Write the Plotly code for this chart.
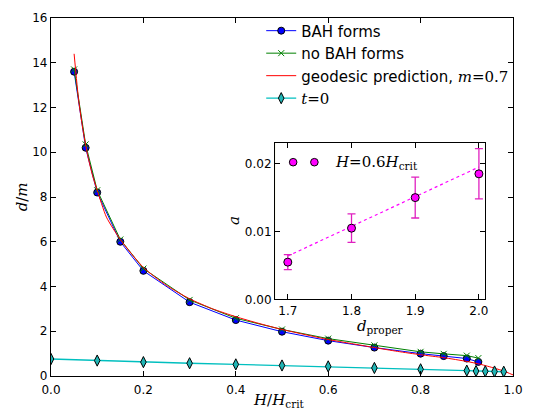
import plotly.graph_objects as go

# ---- data ----
bah_x = [0.05, 0.075, 0.1, 0.15, 0.2, 0.3, 0.4, 0.5, 0.6, 0.7, 0.8, 0.85, 0.9, 0.925]
bah_y = [13.6, 10.2, 8.2, 6.0, 4.7, 3.3, 2.5, 1.98, 1.58, 1.27, 1.0, 0.89, 0.78, 0.63]

nobah_x = [0.05, 0.075, 0.1, 0.15, 0.2, 0.3, 0.4, 0.5, 0.6, 0.7, 0.8, 0.85, 0.9, 0.925]
nobah_y = [13.7, 10.35, 8.3, 6.1, 4.8, 3.4, 2.58, 2.08, 1.67, 1.37, 1.08, 0.99, 0.91, 0.8]

geo_x = [0.05, 0.06, 0.07, 0.08, 0.09, 0.1, 0.12, 0.15, 0.2, 0.25, 0.3, 0.35, 0.4, 0.45,
         0.5, 0.55, 0.6, 0.65, 0.7, 0.75, 0.8, 0.85, 0.9, 0.93, 0.96, 0.98, 1.0]
geo_y = [14.4, 12.3, 10.9, 9.8, 8.95, 8.3, 7.1, 6.1, 4.85, 4.05, 3.45, 3.0, 2.65, 2.35,
         2.08, 1.85, 1.63, 1.45, 1.27, 1.1, 0.95, 0.82, 0.65, 0.52, 0.35, 0.22, 0.05]

t0_x = [0.0, 0.1, 0.2, 0.3, 0.4, 0.5, 0.6, 0.7, 0.8, 0.9, 0.92, 0.94, 0.96, 0.98]
t0_y = [0.76, 0.69, 0.62, 0.57, 0.52, 0.47, 0.43, 0.36, 0.3, 0.24, 0.22, 0.21, 0.2, 0.19]

inset_x = [1.7, 1.8, 1.9, 2.0]
inset_y = [0.0055, 0.0105, 0.015, 0.0185]
inset_err = [0.0011, 0.0021, 0.003, 0.0037]
fit_x = [1.7, 2.0]
fit_y = [0.0064, 0.0195]

main_xticks = [0.0, 0.2, 0.4, 0.6, 0.8, 1.0]
main_yticks = [0, 2, 4, 6, 8, 10, 12, 14, 16]
inset_xticks = [1.7, 1.8, 1.9, 2.0]
inset_yticks = [0.0, 0.01, 0.02]

SANS = "DejaVu Sans"
SERIF = "DejaVu Serif"

fig = go.Figure()

fig.add_trace(go.Scatter(
    x=bah_x, y=bah_y, mode="lines+markers", name="BAH forms",
    line=dict(color="#0000FF", width=1),
    marker=dict(symbol="circle", size=7, color="#0000FF", line=dict(color="black", width=1)),
))
fig.add_trace(go.Scatter(
    x=nobah_x, y=nobah_y, mode="lines+markers", name="no BAH forms",
    line=dict(color="#008000", width=1),
    marker=dict(symbol="x-thin", size=6, color="#008000", line=dict(color="#008000", width=1)),
))
fig.add_trace(go.Scatter(
    x=geo_x, y=geo_y, mode="lines",
    name="geodesic prediction, <span style='font-family:DejaVu Serif'><i>m</i>=0.7</span>",
    line=dict(color="#FF0000", width=1, shape="spline", smoothing=0.6),
))
fig.add_trace(go.Scatter(
    x=t0_x, y=t0_y, mode="lines+markers",
    name="<span style='font-family:DejaVu Serif'><i>t</i>=0</span>",
    line=dict(color="#00BFBF", width=1.3),
    marker=dict(symbol="diamond-tall", size=8, color="#20B5B5", line=dict(color="black", width=1)),
))

# inset
fig.add_trace(go.Scatter(
    x=fit_x, y=fit_y, mode="lines", showlegend=False,
    line=dict(color="#FF00FF", width=1.2, dash="dot"),
    xaxis="x2", yaxis="y2",
))
fig.add_trace(go.Scatter(
    x=inset_x, y=inset_y, mode="markers", showlegend=False,
    error_y=dict(type="data", array=inset_err, color="#E020C0", thickness=1.3, width=4),
    marker=dict(symbol="circle", size=8, color="#FF00FF", line=dict(color="black", width=1)),
    xaxis="x2", yaxis="y2",
))

axis_common = dict(
    showline=True, linecolor="black", linewidth=1.3, mirror="ticks",
    ticks="inside", ticklen=5, tickwidth=1, tickcolor="black",
    showgrid=False, zeroline=False,
    tickfont=dict(family=SANS, size=12, color="black"),
)

inset_legend_marks = [
    dict(type="circle", xref="x2 domain", yref="y2 domain", xsizemode="pixel", ysizemode="pixel",
         xanchor=xa, yanchor=0.875, x0=-3.8, x1=3.8, y0=-3.8, y1=3.8,
         fillcolor="#FF00FF", line=dict(color="black", width=1))
    for xa in (0.086, 0.187)
]

fig.update_layout(
    width=534, height=411,
    margin=dict(l=51, r=13, t=11, b=35),
    paper_bgcolor="white", plot_bgcolor="white",
    xaxis=dict(range=[0, 1.0], tickvals=main_xticks, ticktext=["0.0", "0.2", "0.4", "0.6", "0.8", "1.0"],
               domain=[0, 1], ticklabelstandoff=2, **axis_common),
    yaxis=dict(range=[0, 16], tickvals=main_yticks, domain=[0, 1], **axis_common),
    xaxis2=dict(range=[1.68, 2.01], tickvals=inset_xticks, ticktext=["1.7", "1.8", "1.9", "2.0"],
                domain=[0.485, 0.940], anchor="y2", **axis_common),
    yaxis2=dict(range=[0, 0.0231], tickvals=inset_yticks, ticktext=["0.00", "0.01", "0.02"],
                domain=[0.2137, 0.652], anchor="x2", **axis_common),
    showlegend=True,
    legend=dict(x=0.455, y=1.01, xanchor="left", yanchor="top",
                bgcolor="rgba(255,255,255,0)", borderwidth=0,
                font=dict(family=SANS, size=15, color="black"),
                tracegroupgap=0, itemwidth=30),
    shapes=[
        dict(type="rect", xref="x2 domain", yref="y2 domain", x0=0, x1=1, y0=0, y1=1,
             fillcolor="#BFBF00", line=dict(width=0), layer="below"),
    ] + inset_legend_marks,
    annotations=[
        dict(text="<i>d</i>/<i>m</i>", xref="paper", yref="paper", x=-0.062, y=0.5,
             xanchor="center", yanchor="middle", textangle=-90, showarrow=False,
             font=dict(family=SERIF, size=15, color="black")),
        dict(text="<i>H</i>/<i>H</i><sub>crit</sub>", xref="paper", yref="paper", x=0.493, y=-0.068,
             xanchor="center", yanchor="middle", showarrow=False,
             font=dict(family=SERIF, size=15, color="black")),
        dict(text="<i>a</i>", xref="x2 domain", yref="y2 domain", x=-0.195, y=0.5,
             xanchor="center", yanchor="middle", textangle=-90, showarrow=False,
             font=dict(family=SERIF, size=15, color="black")),
        dict(text="<i>d</i><sub>proper</sub>", xref="x2 domain", yref="y2 domain", x=0.5, y=-0.17,
             xanchor="center", yanchor="middle", showarrow=False,
             font=dict(family=SERIF, size=15, color="black")),
        dict(text="<i>H</i>=0.6<i>H</i><sub>crit</sub>", xref="x2 domain", yref="y2 domain", x=0.275, y=0.87,
             xanchor="left", yanchor="middle", showarrow=False,
             font=dict(family=SERIF, size=15, color="black")),
    ],
)

fig.write_html("out.html", config={"displayModeBar": False},
               post_script="document.body.style.margin='0';")
